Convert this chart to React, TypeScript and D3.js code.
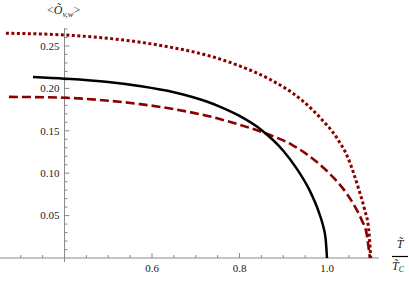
import React from "react";
import * as d3 from "d3";

const blackX = [0.328, 0.4, 0.5, 0.575, 0.65, 0.69, 0.725, 0.76, 0.8, 0.85, 0.9, 0.93, 0.96, 0.98, 0.99, 0.997, 1.0];
const blackY = [0.2135, 0.2115, 0.2075, 0.2025, 0.1955, 0.1902, 0.1845, 0.1773, 0.1675, 0.151, 0.1265, 0.106, 0.08, 0.056, 0.04, 0.022, 0];

const dottedX = [0.266, 0.4, 0.5, 0.5726, 0.65, 0.725, 0.8, 0.87, 0.945, 0.985, 1.022, 1.048, 1.072, 1.086, 1.095, 1.1];
const dottedY = [0.265, 0.263, 0.259, 0.2545, 0.2478, 0.2392, 0.2265, 0.2105, 0.185, 0.165, 0.142, 0.118, 0.082, 0.057, 0.035, 0];

const dashedX = [0.273, 0.4, 0.5, 0.5726, 0.65, 0.725, 0.8, 0.862, 0.92, 0.96, 1.007, 1.035, 1.06, 1.08, 1.09, 1.098];
const dashedY = [0.19, 0.189, 0.1855, 0.1815, 0.1755, 0.1678, 0.1572, 0.1465, 0.1335, 0.12, 0.099, 0.083, 0.064, 0.044, 0.03, 0];

const xMajor = [0.6, 0.8, 1.0];
const xMinor = [0.3, 0.35, 0.45, 0.5, 0.55, 0.65, 0.7, 0.75, 0.85, 0.9, 0.95, 1.05];
const yMajor = [0.05, 0.1, 0.15, 0.2, 0.25];
const yTickLabels = ["0.05", "0.10", "0.15", "0.20", "0.25"];
const xTickLabels = ["0.6", "0.8", "1.0"];

export default function App() {
  const x = d3.scaleLinear().domain([0.4, 1.0]).range([64.5, 327]);
  const y = d3.scaleLinear().domain([0, 0.25]).range([258, 46]);
  const yMinor: number[] = [];
  for (let i = 1; i <= 27; i++) {
    if (i % 5 !== 0) yMinor.push(i / 100);
  }
  const line = d3
    .line<[number, number]>()
    .x((d) => x(d[0]))
    .y((d) => y(d[1]))
    .curve(d3.curveMonotoneX);
  const zip = (a: number[], b: number[]) => a.map((v, i) => [v, b[i]] as [number, number]);
  const red = "#8c0000";
  const axisColor = "#8a8a8a";
  const font = "'Liberation Serif', 'Times New Roman', serif";
  const x0 = x(0.4);
  const y0 = y(0);
  return (
    <svg width={409} height={283} style={{ position: "absolute", left: 0, top: 0, background: "#fff" }}>
      <line x1={0} x2={379} y1={y0} y2={y0} stroke={axisColor} strokeWidth={1} />
      <line x1={x0} x2={x0} y1={y(0.271)} y2={y0 + 4} stroke={axisColor} strokeWidth={1} />
      {xMinor.map((v) => (
        <line key={"xm" + v} x1={x(v)} x2={x(v)} y1={y0} y2={y0 - 3} stroke={axisColor} strokeWidth={1} />
      ))}
      {xMajor.map((v) => (
        <line key={"xM" + v} x1={x(v)} x2={x(v)} y1={y0} y2={y0 - 5} stroke={axisColor} strokeWidth={1} />
      ))}
      {yMinor.map((v) => (
        <line key={"ym" + v} x1={x0} x2={x0 + 3} y1={y(v)} y2={y(v)} stroke={axisColor} strokeWidth={1} />
      ))}
      {yMajor.map((v) => (
        <line key={"yM" + v} x1={x0} x2={x0 + 5} y1={y(v)} y2={y(v)} stroke={axisColor} strokeWidth={1} />
      ))}
      {xMajor.map((v, i) => (
        <text key={"xl" + v} x={x(v)} y={y0 + 14} fontFamily={font} fontSize={11} fill="#222" textAnchor="middle">
          {xTickLabels[i]}
        </text>
      ))}
      {yMajor.map((v, i) => (
        <text key={"yl" + v} x={x0 - 5} y={y(v) + 3.8} fontFamily={font} fontSize={11} fill="#222" textAnchor="end">
          {yTickLabels[i]}
        </text>
      ))}
      <path d={line(zip(dottedX, dottedY)) || ""} fill="none" stroke={red} strokeWidth={3} strokeDasharray="3,2.5" />
      <path d={line(zip(dashedX, dashedY)) || ""} fill="none" stroke={red} strokeWidth={2.6} strokeDasharray="9,4" />
      <path d={line(zip(blackX, blackY)) || ""} fill="none" stroke="#000" strokeWidth={2.5} />
      <text x={47} y={14} fontFamily={font} fontSize={12} fill="#222">
        {"<"}
        <tspan fontStyle="italic">{"\u00D5"}</tspan>
        <tspan fontStyle="italic" fontSize={8.5} dy={3}>
          {"v,w"}
        </tspan>
        <tspan dy={-3}>{">"}</tspan>
      </text>
      <text x={400} y={248} fontFamily={font} fontSize={12} fill="#222" textAnchor="middle" fontStyle="italic">
        {"T\u0303"}
      </text>
      <line x1={392} x2={408} y1={256.5} y2={256.5} stroke="#000" strokeWidth={1.2} />
      <text x={398} y={270} fontFamily={font} fontSize={12} fill="#222" textAnchor="middle" fontStyle="italic">
        {"T\u0303"}
        <tspan fontSize={8} dy={2}>
          {"C"}
        </tspan>
      </text>
    </svg>
  );
}
